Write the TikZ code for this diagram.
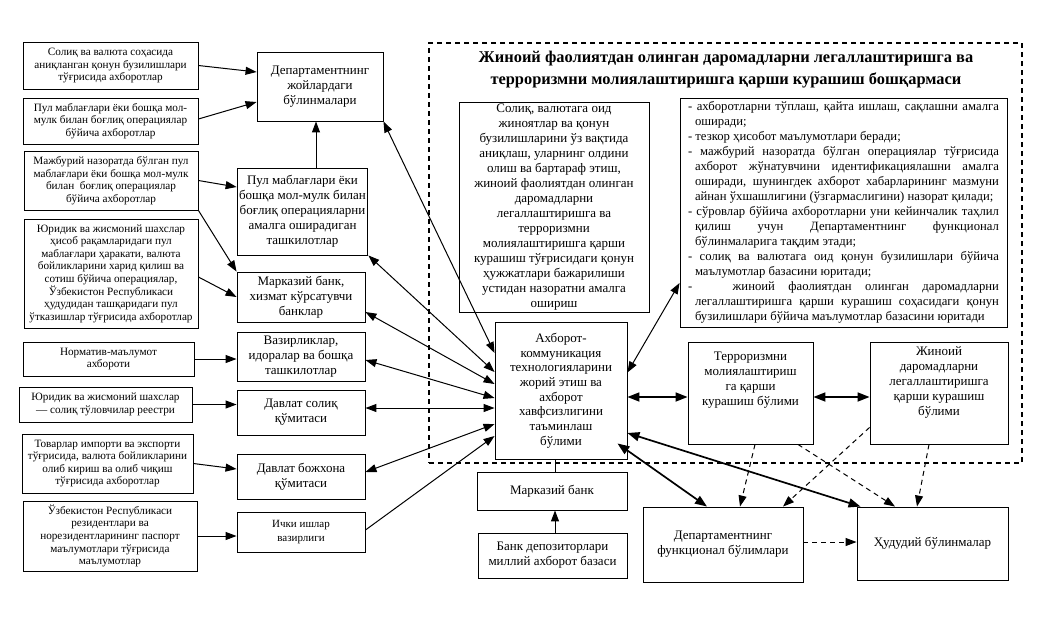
\documentclass[tikz,border=0pt]{standalone}
\usepackage{fontspec}
\setmainfont{Liberation Serif}
\usetikzlibrary{arrows.meta,calc}
\begin{document}
\begin{tikzpicture}[x=1pt,y=-1pt,
  box/.style={draw, line width=0.9pt, align=center, inner sep=2pt},
  sm/.style={font=\fontsize{11.2}{12.6}\selectfont},
  md/.style={font=\fontsize{13}{15}\selectfont},
  arr/.style={line width=1pt,-{Triangle[length=11pt,width=8pt]}},
  darr/.style={line width=1pt,{Triangle[length=11pt,width=8pt]}-{Triangle[length=11pt,width=8pt]}},
  tdarr/.style={line width=1.7pt,{Triangle[length=12pt,width=9pt]}-{Triangle[length=12pt,width=9pt]}},
  dsharr/.style={line width=1pt,dash pattern=on 5pt off 4pt,-{Triangle[length=11pt,width=8pt]}},
  plain/.style={line width=1pt}
]
\useasboundingbox (0,0) rectangle (1043,630);
% frame
\node[draw, line width=1.2pt, dash pattern=on 5pt off 4pt, minimum width=593pt, minimum height=420pt, inner sep=0pt] (frame) at (725.5,253) {};
\node[font=\bfseries\fontsize{16.4}{22}\selectfont, align=center] (title) at (726,70) {Жиноий фаолиятдан олинган даромадларни легаллаштиришга ва\\ терроризмни молиялаштиришга қарши курашиш бошқармаси};
% left column
\node[box,sm,minimum width=175pt,minimum height=47pt] (L1) at (110.5,65.5) {Солиқ ва валюта соҳасида\\ аниқланган қонун бузилишлари\\ тўғрисида ахборотлар};
\node[box,sm,minimum width=175pt,minimum height=46pt] (L2) at (110.5,121) {Пул маблағлари ёки бошқа мол-\\мулк билан боғлиқ операциялар\\ бўйича ахборотлар};
\node[box,sm,minimum width=174pt,minimum height=59pt] (L3) at (111,180.5) {Мажбурий назоратда бўлган пул\\ маблағлари ёки бошқа мол-мулк\\ билан~~боғлиқ операциялар\\ бўйича ахборотлар};
\node[box,sm,minimum width=174pt,minimum height=109pt] (L4) at (111,273.5) {Юридик ва жисмоний шахслар\\ ҳисоб рақамларидаги пул\\ маблағлари ҳаракати, валюта\\ бойликларини харид қилиш ва\\ сотиш бўйича операциялар,\\ Ўзбекистон Республикаси\\ ҳудудидан ташқаридаги пул\\ ўтказишлар тўғрисида ахборотлар};
\node[box,sm,minimum width=171pt,minimum height=34pt] (L5) at (108.5,359) {Норматив-маълумот\\ ахбороти};
\node[box,sm,minimum width=173pt,minimum height=35pt] (L6) at (105.5,404.5) {Юридик ва жисмоний шахслар\\ — солиқ тўловчилар реестри};
\node[box,sm,minimum width=171pt,minimum height=59pt] (L7) at (107.5,463.5) {Товарлар импорти ва экспорти\\ тўғрисида, валюта бойликларини\\ олиб кириш ва олиб чиқиш\\ тўғрисида ахборотлар};
\node[box,sm,minimum width=174pt,minimum height=70pt] (L8) at (110,536) {Ўзбекистон Республикаси\\ резидентлари ва\\ норезидентларининг паспорт\\ маълумотлари тўғрисида\\ маълумотлар};
% middle column
\node[box,md,minimum width=126pt,minimum height=69pt] (M1) at (320,86.5) {Департаментнинг\\ жойлардаги\\ бўлинмалари};
\node[box,md,minimum width=129pt,minimum height=87pt] (M2) at (302.5,211.5) {Пул маблағлари ёки\\ бошқа мол-мулк билан\\ боғлиқ операцияларни\\ амалга оширадиган\\ ташкилотлар};
\node[box,md,minimum width=128pt,minimum height=50pt] (M3) at (301,297) {Марказий банк,\\ хизмат кўрсатувчи\\ банклар};
\node[box,md,minimum width=128pt,minimum height=49pt] (M4) at (301,356.5) {Вазирликлар,\\ идоралар ва бошқа\\ ташкилотлар};
\node[box,md,minimum width=128pt,minimum height=45pt] (M5) at (301,412.5) {Давлат солиқ\\ қўмитаси};
\node[box,md,minimum width=128pt,minimum height=45pt] (M6) at (301,476.5) {Давлат божхона\\ қўмитаси};
\node[box,font=\fontsize{11}{14}\selectfont,minimum width=128pt,minimum height=40pt] (M7) at (301,532) {Ички ишлар\\ вазирлиги};
% centre
\node[box,md,minimum width=190pt,minimum height=210pt,inner sep=0pt] (C1) at (554,207.5) {Солиқ, валютага оид\\ жиноятлар ва қонун\\ бузилишларини ўз вақтида\\ аниқлаш, уларнинг олдини\\ олиш ва бартараф этиш,\\ жиноий фаолиятдан олинган\\ даромадларни\\ легаллаштиришга ва\\ терроризмни\\ молиялаштиришга қарши\\ курашиш тўғрисидаги қонун\\ ҳужжатлари бажарилиши\\ устидан назоратни амалга\\ ошириш};
\node[box,font=\fontsize{12.7}{15}\selectfont,minimum width=327pt,minimum height=229pt,text width=311pt,align=justify,inner sep=0pt] (R1) at (843.5,212.5) {\parindent=0pt\hyphenpenalty=10000\tolerance=9999\emergencystretch=20pt
\hangindent=7pt\hangafter=1\noindent - ахборотларни тўплаш, қайта ишлаш, сақлашни амалга\linebreak оширади;\par
\noindent - тезкор ҳисобот маълумотлари беради;\par
\hangindent=7pt\hangafter=1\noindent - мажбурий назоратда бўлган операциялар тўғрисида\linebreak ахборот жўнатувчини идентификациялашни амалга\linebreak оширади, шунингдек ахборот хабарларининг мазмуни\linebreak айнан ўхшашлигини (ўзгармаслигини) назорат қилади;\par
\hangindent=7pt\hangafter=1\noindent - сўровлар бўйича ахборотларни уни кейинчалик таҳлил\linebreak қилиш учун Департаментнинг функционал\linebreak бўлинмаларига тақдим этади;\par
\hangindent=7pt\hangafter=1\noindent - солиқ ва валютага оид қонун бузилишлари бўйича\linebreak маълумотлар базасини юритади;\par
\hangindent=7pt\hangafter=1\noindent - ~~жиноий фаолиятдан олинган даромадларни\linebreak легаллаштиришга қарши курашиш соҳасидаги қонун\linebreak бузилишлари бўйича маълумотлар базасини юритади\par};
\node[box,minimum width=132pt,minimum height=137pt,font=\fontsize{13}{14.7}\selectfont] (A) at (561,390.5) {Ахборот-\\ коммуникация\\ технологияларини\\ жорий этиш ва\\ ахборот\\ хавфсизлигини\\ таъминлаш\\ бўлими};
\node[box,md,minimum width=150pt,minimum height=38pt] (MB) at (552,491) {Марказий банк};
\node[box,md,minimum width=149pt,minimum height=45pt] (BD) at (552.5,555.5) {Банк депозиторлари\\ миллий ахборот базаси};
\node[box,minimum width=125pt,minimum height=102pt] (T) at (750.5,393) {};
\node[md,align=center] (Tt) at (750.5,380) {Терроризмни\\ молиялаштириш\\ га қарши\\ курашиш бўлими};
\node[box,minimum width=138pt,minimum height=102pt] (J) at (939,393) {};
\node[md,align=center] (Jt) at (939,382) {Жиноий\\ даромадларни\\ легаллаштиришга\\ қарши курашиш\\ бўлими};
\node[box,md,minimum width=160pt,minimum height=75pt] (F) at (723,544.5) {Департаментнинг\\ функционал бўлимлари};
\node[box,md,minimum width=151pt,minimum height=73pt] (H) at (932.5,543.5) {Ҳудудий бўлинмалар};
% left -> middle
\draw[arr] (L1.east) -- ([yshift=14.5pt]M1.west);
\draw[arr] ([yshift=2pt]L2.east) -- ([yshift=-15.5pt]M1.west);
\draw[arr] (L3.east) -- ([yshift=24.5pt]M2.west);
\draw[arr] (L3.south east) -- (M3.north west);
\draw[arr] ([yshift=-3.5pt]L4.east) -- (M3.west);
\draw[arr] (L5.east) -- (L5.east -| M4.west);
\draw[arr] (L6.east) -- (L6.east -| M5.west);
\draw[arr] (L7.east) -- ([yshift=7.5pt]M6.west);
\draw[arr] (L8.east) -- (L8.east -| M7.west);
% M2 -> M1
\coordinate (m1s) at ([xshift=-4pt]M1.south);
\draw[arr] (m1s |- M2.north) -- (m1s);
% middle <-> A
\draw[darr] (M1.south east) -- ([yshift=37.5pt]A.west);
\draw[darr] (M2.south east) -- ([yshift=18.5pt]A.west);
\draw[darr] ([yshift=-15pt]M3.east) -- ([yshift=6.5pt]A.west);
\draw[darr] ([yshift=-3.5pt]M4.east) -- ([yshift=-7.5pt]A.west);
\draw[darr] ([yshift=4.5pt]M5.east) -- ([yshift=-17.5pt]A.west);
\draw[darr] ([yshift=4.5pt]M6.east) -- ([yshift=-33.5pt]A.west);
\draw[arr] ([yshift=2pt]M7.east) -- ([yshift=-45.5pt]A.west);
% A to the right
\draw[darr] ([yshift=18pt]A.east) -- ([yshift=-70.5pt]R1.west);
\draw[tdarr] ([yshift=-6.5pt]A.east) -- ([yshift=-4pt]T.west);
\draw[tdarr] ([yshift=-4pt]T.east) -- ([yshift=-4pt]J.west);
\draw[tdarr] ([yshift=-42.5pt]A.east) -- ([xshift=4pt]H.north west);
\draw[tdarr] ([shift={(-10pt,16pt)}]A.south east) -- ([xshift=-16pt]F.north);
% dashed
\draw[dsharr] ([xshift=4.5pt]T.south) -- ([xshift=17pt]F.north);
\draw[dsharr] ([xshift=47.5pt]T.south) -- ([xshift=-37.5pt]H.north);
\draw[dsharr] ([yshift=17pt]J.south west) -- ([xshift=60pt]F.north);
\draw[dsharr] ([xshift=-10pt]J.south) -- ([xshift=-15.5pt]H.north);
\coordinate (fe) at ([yshift=2.5pt]F.east);
\draw[dsharr] (fe) -- (fe -| H.west);
% bank
\coordinate (as) at ([xshift=-6pt]A.south);
\draw[plain] (as) -- (as |- MB.north);
\coordinate (bn) at ([xshift=2.5pt]BD.north);
\draw[arr] (bn) -- (bn |- MB.south);
\end{tikzpicture}
\end{document}
